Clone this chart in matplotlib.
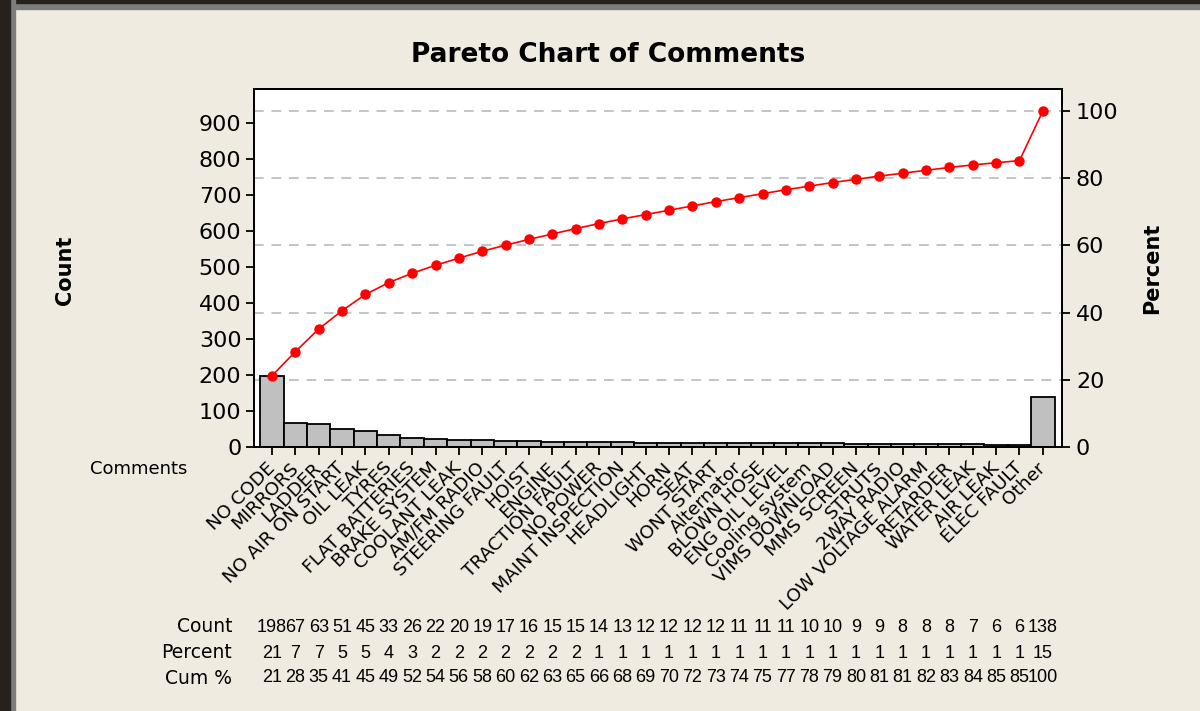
import matplotlib.pyplot as plt
from matplotlib.patches import Rectangle
import matplotlib.transforms as mtransforms
import numpy as np

categories = ["NO CODE", "MIRRORS", "LADDER", "NO AIR ON START", "OIL LEAK", "TYRES",
              "FLAT BATTERIES", "BRAKE SYSTEM", "COOLANT LEAK", "AM/FM RADIO",
              "STEERING FAULT", "HOIST", "ENGINE", "TRACTION FAULT", "NO POWER",
              "MAINT INSPECTION", "HEADLIGHT", "HORN", "SEAT", "WONT START", "Alternator",
              "BLOWN HOSE", "ENG OIL LEVEL", "Cooling system", "VIMS DOWNLOAD", "MMS SCREEN",
              "STRUTS", "2WAY RADIO", "LOW VOLTAGE ALARM", "RETARDER", "WATER LEAK",
              "AIR LEAK", "ELEC FAULT", "Other"]
counts = [198, 67, 63, 51, 45, 33, 26, 22, 20, 19, 17, 16, 15, 15, 14, 13, 12, 12, 12, 12,
          11, 11, 11, 10, 10, 9, 9, 8, 8, 8, 7, 6, 6, 138]
percents = [21, 7, 7, 5, 5, 4, 3, 2, 2, 2, 2, 2, 2, 2, 1, 1, 1, 1, 1, 1,
            1, 1, 1, 1, 1, 1, 1, 1, 1, 1, 1, 1, 1, 15]
cum_percents = [21, 28, 35, 41, 45, 49, 52, 54, 56, 58, 60, 62, 63, 65, 66, 68, 69, 70, 72, 73,
                74, 75, 77, 78, 79, 80, 81, 81, 82, 83, 84, 85, 85, 100]
pct_grid = [20, 40, 60, 80, 100]

bg = '#EFEBE1'
fig = plt.figure(figsize=(12, 7.11), dpi=100, facecolor=bg)

# window frame (dark edge top/left)
fig.patches.append(Rectangle((0, 1 - 9 / 711), 1, 9 / 711, transform=fig.transFigure,
                             color='#7c7c7c', zorder=0))
fig.patches.append(Rectangle((0, 1 - 3 / 711), 1, 3 / 711, transform=fig.transFigure,
                             color='#24211f', zorder=0))
fig.patches.append(Rectangle((0, 0), 15 / 1200, 1, transform=fig.transFigure,
                             color='#7c7c7c', zorder=0))
fig.patches.append(Rectangle((0, 0), 10 / 1200, 1, transform=fig.transFigure,
                             color='#24211f', zorder=0))

ax = fig.add_axes([254 / 1200, 1 - 447 / 711, 808 / 1200, 358 / 711])
x = np.arange(len(counts))
total = sum(counts)

ax.bar(x, counts, width=1.0, color='#C0C0C0', edgecolor='black', linewidth=1.3, zorder=2)
for p in pct_grid:
    ax.axhline(total * p / 100, color='#C4C4C4', lw=1.4, ls=(0, (5, 4)), zorder=1)

ax.set_xlim(-0.77, len(counts) - 0.18)
ax.set_ylim(0, 995)
ax.set_yticks(range(0, 1000, 100))
ax.set_xticks(x)
ax.set_xticklabels(categories, rotation=45, ha='right', va='center', rotation_mode='anchor',
                   fontsize=13.3)
ax.tick_params(axis='both', direction='out', length=6, width=1.3, labelsize=16, pad=3)
ax.tick_params(axis='x', labelsize=13.3, pad=7)
for s in ax.spines.values():
    s.set_linewidth(1.3)

ax2 = ax.twinx()
cum = np.cumsum(counts) / total * 100
ax2.plot(x, cum, color='red', marker='o', markersize=6.5, linewidth=1.2, zorder=3)
ax2.set_ylim(0, 995 / total * 100)
ax2.set_yticks([0] + pct_grid)
ax2.tick_params(axis='y', direction='out', length=6, width=1.3, labelsize=16, pad=4)
for s in ax2.spines.values():
    s.set_linewidth(1.3)

fig.text(608 / 1200, 1 - 55 / 711, 'Pareto Chart of Comments', ha='center', va='center',
         fontsize=19, fontweight='bold')
fig.text(65 / 1200, 1 - 270 / 711, 'Count', rotation=90, ha='center', va='center',
         fontsize=15, fontweight='bold')
fig.text(1152 / 1200, 1 - 268 / 711, 'Percent', rotation=90, ha='center', va='center',
         fontsize=15, fontweight='bold')
fig.text(90 / 1200, 1 - 469 / 711, 'Comments', ha='left', va='center', fontsize=13)

# table under the chart
trans = mtransforms.blended_transform_factory(ax.transData, fig.transFigure)
rows = [('Count', counts, 627), ('Percent', percents, 653), ('Cum %', cum_percents, 678)]
for name, vals, ypix in rows:
    yf = 1 - ypix / 711
    fig.text(232 / 1200, yf, name, ha='right', va='center', fontsize=13.5)
    for xi, v in zip(x, vals):
        ax.text(xi, yf, str(v), transform=trans, ha='center', va='center', fontsize=13,
                family=['Liberation Sans', 'DejaVu Sans'], clip_on=False)

fig.savefig('out.png', dpi=100, facecolor=bg)
